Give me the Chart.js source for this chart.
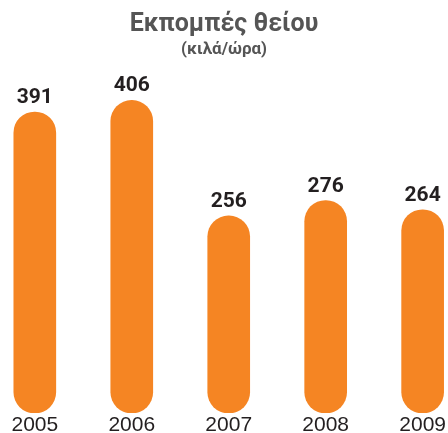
<!DOCTYPE html>
<html>
<head>
<meta charset="utf-8">
<script src="https://cdn.jsdelivr.net/npm/chart.js@4"></script>
<style>
  html, body { margin: 0; padding: 0; background: #fff; }
  #wrap { width: 448px; height: 433px; }
</style>
</head>
<body>
<div id="wrap"><canvas id="sulfurChart"></canvas></div>
<script>
const years = [2005, 2006, 2007, 2008, 2009];
const emissions = [391, 406, 256, 276, 264];
const titleText = 'Εκπομπές θείου';
const subtitleText = '(κιλά/ώρα)';

// draw the number above each bar
const valueLabels = {
    id: 'valueLabels',
    afterDatasetsDraw(chart) {
        const c = chart.ctx;
        const meta = chart.getDatasetMeta(0);
        c.save();
        c.font = 'bold 21px Roboto';
        c.fillStyle = '#231f20';
        c.textAlign = 'center';
        c.textBaseline = 'alphabetic';
        meta.data.forEach((bar, i) => {
            c.fillText(emissions[i], bar.x, bar.y - 9);
        });
        c.restore();
    }
};

const ctx = document.getElementById('sulfurChart').getContext('2d');

new Chart(ctx, {
    type: 'bar',
    data: {
        datasets: [{
            data: years.map((y, i) => ({ x: y, y: emissions[i] })),
            backgroundColor: '#f58523',
            borderRadius: 21,
            borderSkipped: false,
            barThickness: 42
        }]
    },
    options: {
        responsive: true,
        maintainAspectRatio: false,
        animation: false,
        layout: { padding: { top: 0, left: 0, right: 0, bottom: -5 } },
        plugins: {
            legend: { display: false },
            tooltip: { enabled: false },
            title: {
                display: true,
                text: titleText,
                color: '#555555',
                font: { family: 'Roboto', size: 25, weight: 'bold', lineHeight: 1.1 },
                padding: { top: 11, bottom: 2 }
            },
            subtitle: {
                display: true,
                text: subtitleText,
                color: '#555555',
                font: { family: 'Roboto', size: 17, weight: 'bold', lineHeight: 1.1 },
                padding: { top: 0, bottom: 30 }
            }
        },
        scales: {
            x: {
                type: 'linear',
                offset: false,
                min: 2004.641,
                max: 2009.231,
                afterBuildTicks: (axis) => { axis.ticks = years.map(v => ({ value: v })); },
                grid: { display: false, drawTicks: false },
                border: { display: false },
                ticks: {
                    color: '#231f20',
                    font: { family: 'Liberation Sans', size: 21, lineHeight: 1.0 },
                    padding: 2,
                    maxRotation: 0,
                    autoSkip: false,
                    callback: (v) => String(v)
                }
            },
            y: {
                display: false,
                min: 0,
                max: 420.6
            }
        }
    },
    plugins: [valueLabels]
});
</script>
</body>
</html>
